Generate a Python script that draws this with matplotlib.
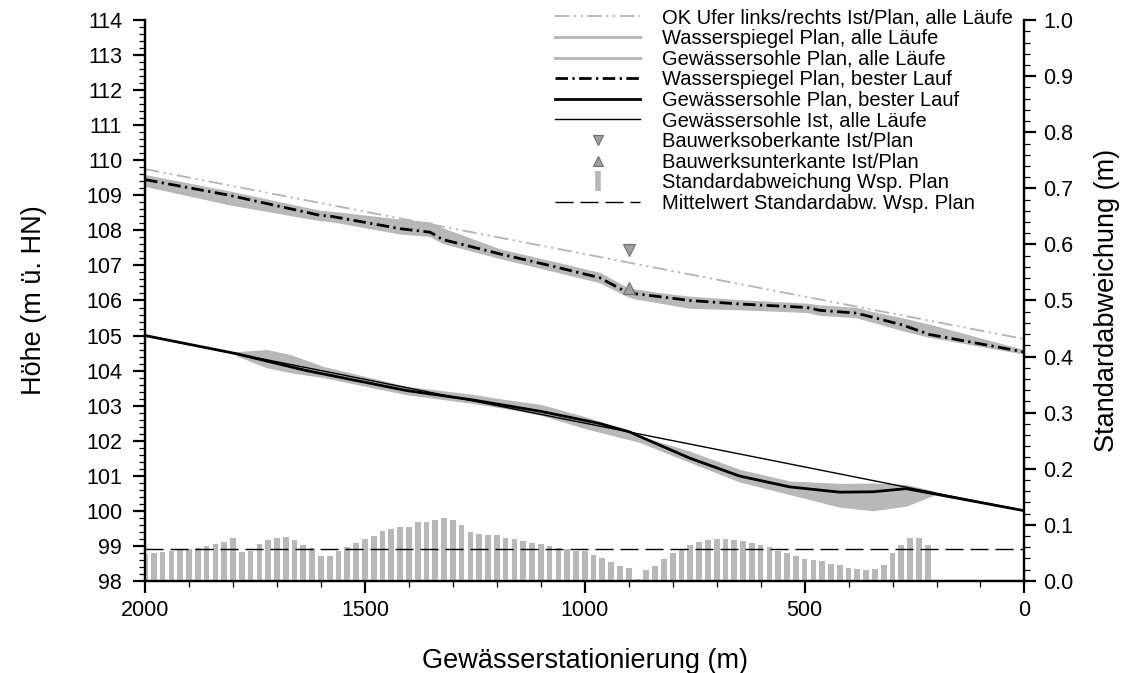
import numpy as np
import matplotlib
matplotlib.use("Agg")
import matplotlib.pyplot as plt
from matplotlib.lines import Line2D

plt.rcParams['font.family'] = ['Liberation Sans', 'DejaVu Sans']

# OK Ufer (links/rechts)
ok_x = [2000, 0]
ok_y = [109.75, 104.9]

# Wasserspiegel Plan, bester Lauf + Huelle aller Laeufe
wsp_x = [2000, 1807, 1602, 1580, 1420, 1352, 1323, 1193, 1080, 966, 905, 891, 830,
         761, 648, 495, 466, 382, 345, 277, 216, 0]
wsp_best = [109.45, 109.0, 108.43, 108.41, 108.05, 107.95, 107.74, 107.33, 107.0, 106.65,
            106.24, 106.2, 106.11, 106.0, 105.9, 105.8, 105.72, 105.64, 105.52, 105.3,
            105.03, 104.53]
wsp_upper = [109.57, 109.1, 108.55, 108.53, 108.30, 108.22, 108.05, 107.45, 107.12, 106.78,
             106.36, 106.32, 106.2, 106.1, 106.0, 105.9, 105.85, 105.78, 105.66, 105.48,
             105.3, 104.57]
wsp_lower = [109.28, 108.75, 108.30, 108.28, 107.92, 107.85, 107.65, 107.22, 106.88, 106.53,
             106.15, 106.08, 105.95, 105.8, 105.76, 105.68, 105.6, 105.53, 105.4, 105.16,
             104.97, 104.49]

# Gewaessersohle
ist_x = [2000, 0]
ist_y = [105.0, 100.0]
sohle_x = [2000, 1792, 1633, 1405, 1254, 1102, 966, 898, 875, 761, 648, 534, 420, 345,
           269, 209, 0]
sohle_best = [105.0, 104.48, 104.0, 103.43, 103.16, 102.84, 102.49, 102.25, 102.12, 101.5,
              100.99, 100.68, 100.53, 100.54, 100.63, 100.49, 100.0]
band_x = [1792, 1723, 1670, 1595, 1405, 1254, 1178, 1102, 989, 875, 761, 648, 534, 420,
          345, 269, 209]
band_upper = [104.52, 104.58, 104.44, 104.1, 103.53, 103.3, 103.15, 103.02, 102.63, 102.11,
              101.68, 101.16, 100.83, 100.76, 100.77, 100.73, 100.55]
band_lower = [104.44, 104.10, 103.96, 103.82, 103.33, 103.08, 102.93, 102.75, 102.33, 101.97,
              101.4, 100.84, 100.48, 100.12, 100.02, 100.15, 100.45]

# Bauwerk
bw_x = [900]
bw_oben = [107.45]
bw_unten = [106.35]

# Standardabweichung Wsp. Plan
std_x = list(range(2000, 200, -20))
std_val = [0.048, 0.049, 0.051, 0.053, 0.055, 0.057, 0.059, 0.0625, 0.065, 0.070,
           0.077, 0.052, 0.053, 0.065, 0.073, 0.077, 0.079, 0.073, 0.064, 0.059,
           0.045, 0.045, 0.054, 0.061, 0.068, 0.075, 0.080, 0.089, 0.093, 0.096,
           0.096, 0.104, 0.105, 0.109, 0.1125, 0.109, 0.100, 0.0875, 0.084, 0.082,
           0.082, 0.077, 0.075, 0.071, 0.068, 0.066, 0.0625, 0.059, 0.057, 0.053,
           0.053, 0.046, 0.041, 0.034, 0.027, 0.023, 0.004, 0.020, 0.027, 0.039,
           0.050, 0.057, 0.064, 0.070, 0.073, 0.075, 0.075, 0.073, 0.071, 0.068,
           0.064, 0.061, 0.054, 0.050, 0.044, 0.039, 0.0375, 0.036, 0.030, 0.029,
           0.023, 0.021, 0.020, 0.021, 0.029, 0.050, 0.064, 0.077, 0.077, 0.064]
std_mean = 0.056

grey = '#b8b8b8'

fig = plt.figure(figsize=(11.27, 6.73), dpi=100)
ax = fig.add_axes([0.1287, 0.137, 0.7803, 0.833])
ax2 = ax.twinx()

# Linien Hoehe
ax.plot(ok_x, ok_y, color='#b4b4b4', lw=1.3, dashes=(8, 2.5, 1.2, 2.5, 1.2, 2.5))
ax.fill_between(wsp_x, wsp_lower, wsp_upper, color=grey, lw=1.2, ec=grey)
ax.fill_between(band_x, band_lower, band_upper, color=grey, lw=1.0, ec=grey)
ax.plot(ist_x, ist_y, color='black', lw=1.0)
ax.plot(sohle_x, sohle_best, color='black', lw=2.0)
ax.plot(wsp_x, wsp_best, color='black', lw=2.0, dashes=(4.5, 1.6, 0.8, 1.6))
ax.plot(bw_x, bw_oben, 'v', color='#a0a0a0', mec='#6e6e6e', mew=0.8, ms=8)
ax.plot(bw_x, bw_unten, '^', color='#a0a0a0', mec='#6e6e6e', mew=0.8, ms=8)

# Balken Standardabweichung
ax2.bar(std_x, std_val, width=13, color=grey, lw=0)
ax2.axhline(std_mean, color='black', lw=1.0, dashes=(13, 5))

ax.set_xlim(2000, 0)
ax.set_ylim(98, 114)
ax2.set_ylim(0, 1.0)

ax.set_xticks([2000, 1500, 1000, 500, 0])
ax.set_xticks(np.arange(0, 2001, 100), minor=True)
ax.set_yticks(np.arange(98, 115, 1))
ax.set_yticks(np.arange(98, 114.01, 0.2), minor=True)
ax2.set_yticks(np.arange(0, 1.01, 0.1))
ax2.set_yticks(np.arange(0, 1.001, 0.02), minor=True)
ax2.set_yticklabels(['%.1f' % v for v in np.arange(0, 1.01, 0.1)])

for a in (ax, ax2):
    a.spines['top'].set_visible(False)
    for s in a.spines.values():
        s.set_linewidth(1.6)
    a.tick_params(which='major', length=8.5, width=1.6, labelsize=15.5, direction='out', pad=5)
    a.tick_params(which='minor', length=4, width=0.9, direction='out')
ax.tick_params(axis='y', which='major', pad=8)

ax.set_xlabel('Gewässerstationierung (m)', fontsize=19.5, labelpad=20)
ax.set_ylabel('Höhe (m ü. HN)', fontsize=19.5, labelpad=28)
ax2.set_ylabel('Standardabweichung (m)', fontsize=19.5, labelpad=15)

handles = [
    Line2D([], [], color='#b4b4b4', lw=1.3, dashes=(8, 2.5, 1.2, 2.5, 1.2, 2.5)),
    Line2D([], [], color=grey, lw=2.2),
    Line2D([], [], color=grey, lw=2.2),
    Line2D([], [], color='black', lw=2.0, dashes=(4.5, 1.6, 0.8, 1.6)),
    Line2D([], [], color='black', lw=2.0),
    Line2D([], [], color='black', lw=1.0),
    Line2D([], [], ls='', marker='v', color='#a0a0a0', mec='#6e6e6e', mew=0.8, ms=7),
    Line2D([], [], ls='', marker='^', color='#a0a0a0', mec='#6e6e6e', mew=0.8, ms=7),
    Line2D([], [], ls='', marker='|', color=grey, mew=4, ms=14),
    Line2D([], [], color='black', lw=1.0, dashes=(13, 5)),
]
labels = [
    'OK Ufer links/rechts Ist/Plan, alle Läufe',
    'Wasserspiegel Plan, alle Läufe',
    'Gewässersohle Plan, alle Läufe',
    'Wasserspiegel Plan, bester Lauf',
    'Gewässersohle Plan, bester Lauf',
    'Gewässersohle Ist, alle Läufe',
    'Bauwerksoberkante Ist/Plan',
    'Bauwerksunterkante Ist/Plan',
    'Standardabweichung Wsp. Plan',
    'Mittelwert Standardabw. Wsp. Plan',
]
ax2.legend(handles, labels, loc='upper right', bbox_to_anchor=(0.987, 1.021),
           frameon=False, fontsize=14.5, borderpad=0, borderaxespad=0,
           labelspacing=0.08, handlelength=4.2, handletextpad=1.1)

fig.savefig('out.png', dpi=100)
